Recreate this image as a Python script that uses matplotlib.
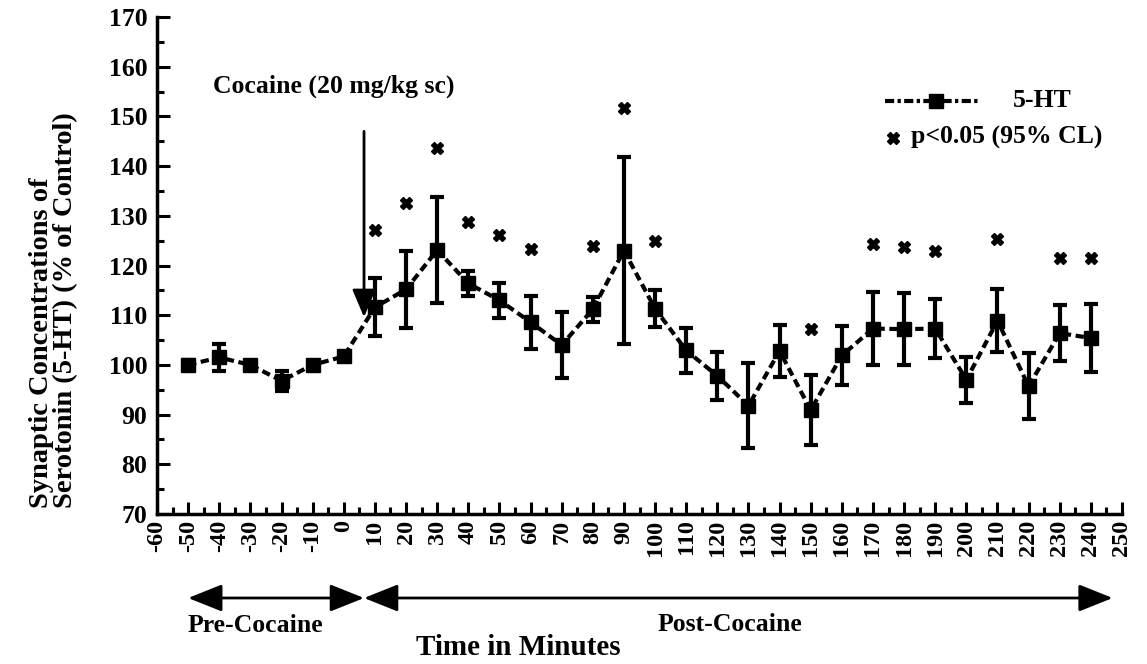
import matplotlib
matplotlib.use("Agg")
import matplotlib.pyplot as plt
from matplotlib.ticker import MultipleLocator
from matplotlib.lines import Line2D

plt.rcParams['font.family'] = ['Liberation Serif', 'DejaVu Serif']
plt.rcParams['font.weight'] = 'bold'

# ---- data ----
times = [-50, -40, -30, -20, -10, 0, 10, 20, 30, 40, 50, 60, 70, 80, 90, 100,
         110, 120, 130, 140, 150, 160, 170, 180, 190, 200, 210, 220, 230, 240]
serotonin = [100.0, 101.5, 100.0, 96.8, 100.0, 101.7, 111.6, 115.2, 123.1, 116.4,
             113.0, 108.6, 104.0, 111.2, 123.0, 111.3, 102.9, 97.8, 91.8, 102.8,
             90.9, 101.9, 107.3, 107.2, 107.3, 97.0, 108.9, 95.7, 106.4, 105.4]
error = [1.0, 2.8, 0.3, 2.0, 0.3, 0.5, 5.8, 7.8, 10.6, 2.5,
         3.5, 5.3, 6.6, 2.5, 18.8, 3.7, 4.6, 4.8, 8.5, 5.2,
         7.0, 6.0, 7.4, 7.3, 5.9, 4.6, 6.4, 6.6, 5.7, 6.8]
star_times = [10, 20, 30, 40, 50, 60, 80, 90, 100, 150, 170, 180, 190, 210, 230, 240]
star_values = [127.1, 132.6, 143.7, 128.8, 126.1, 123.3, 123.9, 151.7, 125.0, 107.3,
               124.3, 123.7, 122.9, 125.4, 121.5, 121.5]
xticks = list(range(-60, 251, 10))
yticks = list(range(70, 171, 10))
injection_time = 6.5
injection_arrow = (147, 109.6)
pre_span = (-50, 6.5)
post_span = (6.5, 247)

fig = plt.figure(figsize=(11.47, 6.64), dpi=100)
ax = fig.add_axes([0.1369, 0.2259, 0.8413, 0.7485])

data_dash = (0, (2.0, 1.1))
ax.errorbar(times, serotonin, yerr=error, fmt='s', color='black', ms=10,
            ecolor='black', elinewidth=3, capsize=4.7, capthick=3, zorder=3)
ax.plot(times, serotonin, color='black', lw=3, linestyle=data_dash, zorder=2)
ax.plot(star_times, star_values, linestyle='none', marker='X', ms=9,
        color='black', zorder=3)

ax.set_xlim(-60, 250)
ax.set_ylim(70, 170)
ax.set_xticks(xticks)
ax.set_xticklabels([str(t) for t in xticks], rotation=90, fontsize=17.5)
ax.set_yticks(yticks)
ax.set_yticklabels([str(t) for t in yticks], fontsize=18.5)
ax.xaxis.set_minor_locator(MultipleLocator(5))
ax.yaxis.set_minor_locator(MultipleLocator(5))
ax.tick_params(axis='both', which='major', direction='in', length=9, width=2.2)
ax.tick_params(axis='both', which='minor', direction='in', length=5, width=2.2)
ax.tick_params(axis='y', pad=7)
ax.tick_params(axis='x', pad=4)
for s in ['top', 'right']:
    ax.spines[s].set_visible(False)
for s in ['left', 'bottom']:
    ax.spines[s].set_linewidth(2.5)

ax.set_ylabel('Synaptic Concentrations of\nSerotonin (5-HT) (% of Control)',
              fontsize=20.5, fontweight='bold', multialignment='left', linespacing=0.95)
ax.yaxis.set_label_coords(-0.082, 0.41)

# cocaine injection arrow
ax.annotate('', xy=(injection_time, injection_arrow[1]),
            xytext=(injection_time, injection_arrow[0]),
            arrowprops=dict(arrowstyle='-|>,head_length=0.85,head_width=0.36',
                            lw=2, color='black', mutation_scale=20, shrinkA=0, shrinkB=0))
ax.text(-42, 156, 'Cocaine (20 mg/kg sc)', fontsize=18.5, fontweight='bold',
        va='center', ha='left')

# legend (manual)
tr = ax.transAxes
ax.add_line(Line2D([0.754, 0.851], [0.831, 0.831], transform=tr, color='black',
                   lw=3, linestyle=(0, (2.2, 0.8, 0.8, 0.8)), clip_on=False))
ax.add_line(Line2D([0.807], [0.831], transform=tr, color='black', marker='s',
                   ms=10, clip_on=False))
ax.text(0.887, 0.831, '5-HT', transform=tr, fontsize=18.5, fontweight='bold',
        va='center', ha='left')
ax.add_line(Line2D([0.763], [0.757], transform=tr, color='black', marker='X',
                   ms=9, linestyle='none', clip_on=False))
ax.text(0.781, 0.757, 'p<0.05 (95% CL)', transform=tr, fontsize=18.5,
        fontweight='bold', va='center', ha='left')

# bottom period arrows
xt = ax.get_xaxis_transform()
yarr = -0.169
ap = dict(arrowstyle='<|-|>,head_length=1.05,head_width=0.42', lw=2,
          color='black', mutation_scale=20, shrinkA=0, shrinkB=0)
ax.annotate('', xy=(pre_span[0], yarr), xytext=(pre_span[1], yarr), xycoords=xt,
            textcoords=xt, arrowprops=ap, annotation_clip=False)
ax.annotate('', xy=(post_span[0], yarr), xytext=(post_span[1], yarr), xycoords=xt,
            textcoords=xt, arrowprops=ap, annotation_clip=False)
ax.text(0.1016, -0.225, 'Pre-Cocaine', transform=tr, fontsize=18.5,
        fontweight='bold', ha='center', va='center')
ax.text(0.594, -0.223, 'Post-Cocaine', transform=tr, fontsize=18.5,
        fontweight='bold', ha='center', va='center')
ax.text(0.374, -0.268, 'Time in Minutes', transform=tr, fontsize=21,
        fontweight='bold', ha='center', va='center')

fig.savefig('out.png', dpi=100)
